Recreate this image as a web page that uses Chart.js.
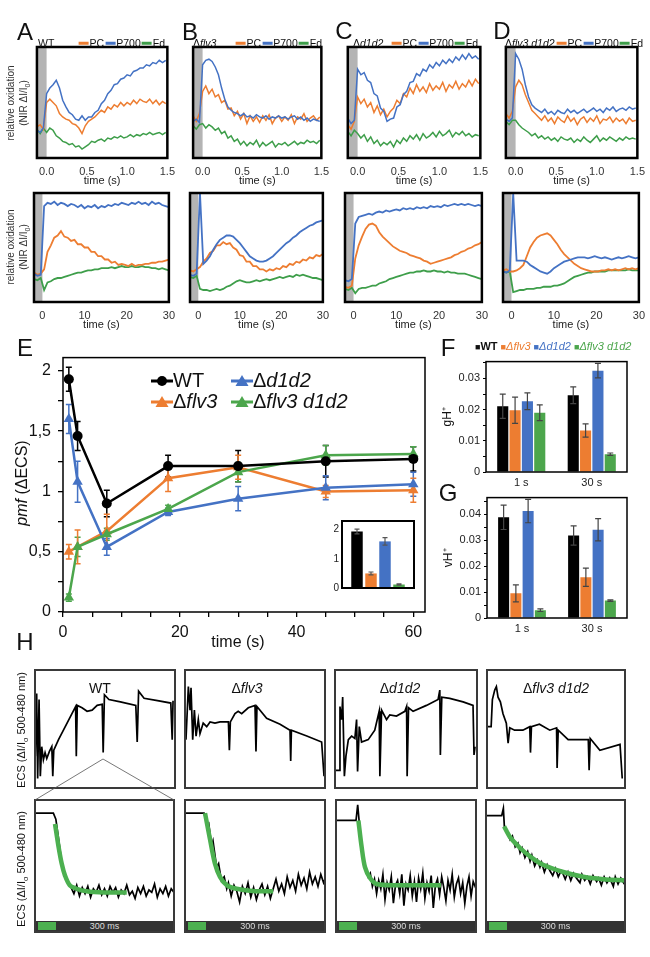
<!DOCTYPE html>
<html lang="en">
<head>
<meta charset="UTF-8">
<title>PSI redox kinetics and pmf in flv3 / d1d2 mutants</title>
<script src="https://cdn.jsdelivr.net/npm/chart.js"></script>
<style>
  html, body { margin: 0; background: #fff; }
  #fig { position: relative; width: 650px; height: 957px; overflow: hidden;
         font-family: "Liberation Sans", Arial, sans-serif; color: #111; }
  #fig canvas { position: absolute; }
  .txt { position: absolute; white-space: nowrap; line-height: 1; transform: translate(-50%, -50%); }
  .lft { position: absolute; white-space: nowrap; line-height: 1; transform: translateY(-50%); }
  .rgt { position: absolute; white-space: nowrap; line-height: 1; transform: translate(-100%, -50%); }
  .rot { position: absolute; white-space: nowrap; line-height: 1; transform: translate(-50%, -50%) rotate(-90deg); }
  .key { display: inline-block; width: 10px; height: 2.5px; vertical-align: middle; margin: 0 1px 1px 1px; }
  .bar300 { position: absolute; height: 10px; background: #333; color: #ddd; font-size: 9px; line-height: 10px; text-align: center; }
  .bar300 span { position: absolute; left: 2px; top: 1px; width: 18px; height: 8px; background: #4CB050; }
</style>
</head>
<body>
<div id="fig"></div>
<script>
// ---- A-D: relative oxidation traces (0-100 % of panel height) ----
const tTop = [-0.12,-0.08,-0.04,0,0.04,0.08,0.12,0.16,0.2,0.24,0.28,0.32,0.36,0.4,0.44,0.48,0.52,0.56,0.6,0.64,0.68,0.72,0.76,0.8,0.84,0.88,0.92,0.96,1,1.04,1.08,1.12,1.16,1.2,1.24,1.28,1.32,1.36,1.4,1.44,1.48];
const tBot = [-2,-1.2,-0.4,0.4,1.2,2,2.8,3.6,4.4,5.2,6,6.8,7.6,8.4,9.2,10,10.8,11.6,12.4,13.2,14,14.8,15.6,16.4,17.2,18,18.8,19.6,20.4,21.2,22,22.8,23.6,24.4,25.2,26,26.8,27.6,28.4,29.2,30];
const topTicks = [0, 0.5, 1, 1.5];
const botTicks = [0, 10, 20, 30];

const aTopP700 = [25,23,27,58,63,66,70,63,52,46,41,39,35,34,38,34,37,37,41,43,49,52,58,61,66,67,71,72,75,74,78,79,81,81,84,83,86,85,88,86,88];
const aTopPC   = [28,30,26,50,53,50,47,40,37,35,34,31,30,27,22,29,33,35,37,40,43,41,46,44,48,46,50,47,50,48,52,49,53,51,50,53,49,52,48,51,49];
const aTopFd   = [26,22,27,23,27,25,20,18,15,14,12,13,10,11,8,10,12,15,14,16,17,15,18,17,19,18,20,18,19,21,19,21,20,22,21,23,21,22,23,21,23];
const bTopP700 = [33,35,32,84,88,89,87,82,75,63,53,46,43,41,40,38,40,37,38,36,39,37,36,38,35,37,36,38,36,37,35,37,38,35,37,34,36,33,35,34,33];
const bTopPC   = [38,33,40,60,65,58,62,55,57,50,52,44,45,38,42,35,40,31,38,33,37,32,38,34,39,31,36,38,33,37,34,39,31,37,35,40,33,36,38,34,37];
const bTopFd   = [29,26,30,31,27,30,28,25,27,22,24,18,20,15,17,12,15,11,14,12,16,10,14,11,13,15,10,13,12,14,11,13,15,12,14,13,16,14,15,13,16];
const cTopP700 = [36,31,34,80,75,77,70,68,58,56,45,42,33,35,36,46,48,57,60,68,69,76,74,80,78,84,81,86,83,88,85,89,86,91,88,93,89,94,90,92,89];
const cTopPC   = [30,26,33,55,49,53,46,50,41,47,39,44,37,42,45,52,49,58,55,63,58,66,60,64,59,67,61,65,62,68,60,66,63,69,62,67,64,70,65,71,67];
const cTopFd   = [24,20,25,22,18,21,15,19,13,16,11,14,12,15,10,16,13,18,15,20,17,21,16,22,18,20,23,19,24,20,22,25,19,23,21,24,20,22,19,21,20];
const dTopP700 = [35,33,36,94,89,80,66,55,48,45,43,41,44,40,42,39,43,41,40,44,41,43,40,42,44,41,43,45,42,44,41,45,43,46,42,44,45,43,46,44,45];
const dTopPC   = [40,36,42,64,70,66,57,50,43,40,37,34,38,33,36,31,37,34,32,38,33,36,30,35,37,32,36,33,38,31,35,34,37,32,36,33,35,31,36,33,34];
const dTopFd   = [33,30,34,34,30,27,25,23,20,22,18,20,17,19,16,18,15,19,17,16,18,14,17,15,19,16,14,17,20,15,18,16,19,17,15,18,16,19,17,18,17];

const aBotP700 = [26,24,25,88,91,90,92,89,91,90,88,90,89,87,89,86,88,87,89,86,88,87,89,88,90,89,91,90,89,91,90,92,90,91,89,92,90,91,89,88,87];
const aBotPC   = [27,25,26,30,46,52,59,61,65,60,59,56,57,53,53,50,50,46,46,42,42,39,39,36,37,34,35,34,33,35,33,34,34,35,35,36,36,37,37,38,39];
const aBotFd   = [21,20,22,11,18,19,21,22,22,23,24,25,26,27,27,28,29,29,30,30,31,31,31,32,31,32,33,32,32,33,32,32,33,32,32,31,31,30,31,30,29];
const bBotP700 = [25,24,26,100,35,38,42,48,53,57,59,61,61,60,57,54,50,46,42,40,38,37,37,38,40,42,45,48,51,54,56,59,61,64,66,68,70,71,73,74,75];
const bBotPC   = [29,28,30,32,37,40,45,47,52,52,55,53,54,50,48,43,42,37,37,33,33,30,30,28,30,29,31,30,33,32,35,34,37,36,39,38,41,40,43,42,44];
const bBotFd   = [23,22,24,12,11,11,10,11,12,11,12,14,15,17,19,20,19,18,18,19,20,19,20,21,20,21,22,23,22,23,24,23,25,24,25,24,23,22,22,21,20];
const cBotP700 = [20,19,21,72,78,79,80,81,80,82,83,82,84,83,84,85,84,86,85,86,85,87,86,87,86,88,87,88,87,89,88,89,90,89,90,89,90,89,88,89,88];
const cBotPC   = [14,13,15,40,52,60,67,71,72,70,64,60,57,54,51,49,47,46,45,43,42,41,40,38,37,35,36,37,38,39,40,41,43,44,46,47,49,50,52,53,55];
const cBotFd   = [12,11,13,8,12,13,13,14,15,15,17,18,19,21,22,23,24,25,26,27,27,28,28,29,28,28,29,28,28,27,28,27,27,26,26,26,25,24,23,22,21];
const dBotP700 = [28,27,29,100,38,38,38,37,34,32,30,28,27,26,28,31,33,35,37,38,39,40,41,41,41,40,41,42,41,40,41,40,39,40,41,40,41,42,41,40,41];
const dBotPC   = [29,30,28,28,29,31,34,42,50,55,59,61,62,63,61,57,53,48,44,41,38,35,33,31,30,29,28,28,28,29,29,30,29,30,29,30,31,30,31,30,31];
const dBotFd   = [28,27,28,9,10,11,11,12,12,12,13,13,14,14,14,15,15,16,17,19,21,23,24,25,26,27,27,28,28,28,28,29,29,29,29,29,29,30,29,29,29];

// ---- E: pmf ----
const tE = [1, 2.5, 7.5, 18, 30, 45, 60];
const pmfWT         = [1.93, 1.46, 0.90, 1.21, 1.21, 1.25, 1.27];
const pmfWTErr      = [0.10, 0.12, 0.11, 0.09, 0.13, 0.13, 0.10];
const pmfFlv3       = [0.50, 0.54, 0.67, 1.11, 1.20, 1.00, 1.01];
const pmfFlv3Err    = [0.06, 0.14, 0.14, 0.11, 0.10, 0.05, 0.10];
const pmfD1d2       = [1.60, 1.08, 0.54, 0.83, 0.94, 1.03, 1.06];
const pmfD1d2Err    = [0.12, 0.17, 0.07, 0.03, 0.10, 0.10, 0.10];
const pmfFlv3D1d2   = [0.12, 0.54, 0.645, 0.855, 1.16, 1.30, 1.31];
const pmfFlv3D1d2Err= [0.03, 0.08, 0.05, 0.03, 0.08, 0.08, 0.06];
const eXTicks = [0,5,10,15,20,25,30,35,40,45,50,55,60];
const eXLabeled = [0, 20, 40, 60];
const eYTicks = [0,0.25,0.5,0.75,1,1.25,1.5,1.75,2];
const eYLabeled = [0, 0.5, 1, 1.5, 2];
const strains = ['WT', 'Δflv3', 'Δd1d2', 'Δflv3 d1d2'];
const insetPmf = [1.94, 0.50, 1.60, 0.12];
const insetErr = [0.08, 0.05, 0.13, 0.02];
const insetTicks = [0, 1, 2];

// ---- F, G: gH+ and vH+ ----
const fgCats = ['1 s', '30 s'];
const gHWT = [0.0211, 0.0246],       gHWTErr = [0.0039, 0.0027];
const gHFlv3 = [0.0198, 0.0133],     gHFlv3Err = [0.0042, 0.0021];
const gHD1d2 = [0.0227, 0.0325],     gHD1d2Err = [0.0027, 0.0023];
const gHFlv3D1d2 = [0.0190, 0.0057], gHFlv3D1d2Err = [0.0025, 0.0004];
const vHWT = [0.0388, 0.0318],       vHWTErr = [0.0047, 0.0037];
const vHFlv3 = [0.0095, 0.0157],     vHFlv3Err = [0.0033, 0.0035];
const vHD1d2 = [0.0412, 0.0340],     vHD1d2Err = [0.0045, 0.0043];
const vHFlv3D1d2 = [0.0030, 0.0067], vHFlv3D1d2Err = [0.0005, 0.0003];
const fTicks = [0,0.005,0.01,0.015,0.02,0.025,0.03,0.035];
const fLabeled = [0, 0.01, 0.02, 0.03];
const gTicks = [0,0.005,0.01,0.015,0.02,0.025,0.03,0.035,0.04,0.045];
const gLabeled = [0, 0.01, 0.02, 0.03, 0.04];

// ---- H: ECS traces, [x % of panel, y % of panel] ----
const hTopWT = [[0.2,27],[1.2,80],[1.9,8],[2.9,75],[3.8,10],[4.8,35],[6,24],[7.2,30],[8.4,25],[10.3,31],[12,35],[12.7,10],[13.4,32],[16.8,41],[21.6,52],[26.4,63],[29,69],[29.5,27],[30.2,70],[33.6,68],[37.2,65],[40.8,66],[44.4,70],[48,71],[48.7,30],[49.6,79],[52.8,75],[61,73],[72,70],[73,39],[74,82],[77.9,76],[87.5,74],[97,72],[98,41],[98.6,74]];
const hTopFlv3 = [[0.7,41],[2.4,86],[3.6,66],[4.3,85],[5.5,41],[6.7,66],[7.9,44],[9.5,58],[10.7,46],[13,55],[15.5,52],[17.9,56],[21.4,55],[25,56],[31,56],[31.7,32],[32.4,56],[35.7,63],[38,65],[40.5,63],[45.2,68],[50,70],[50.7,31],[51.4,69],[58.3,59],[67.9,54],[75,49],[75.5,23],[76,49],[87,44],[97.6,39],[99.3,10]];
const hTopD1d2 = [[0.7,15],[3,15],[3.5,69],[4.7,58],[5.4,77],[6.6,10],[7.7,27],[9.4,41],[11.7,44],[14,42],[15.2,58],[15.9,14],[17.1,52],[18.7,39],[23.4,41],[28,49],[31.1,65],[31.6,10],[32.8,66],[36.3,58],[38.6,62],[43.3,61],[49.2,65],[50.4,69],[50.8,10],[51.8,68],[55,65],[64.4,70],[72.6,75],[73.8,83],[74.2,28],[75.2,77],[80.8,76],[90.2,73],[97.2,70],[97.9,28],[98.6,35]];
const hTopFlv3D1d2 = [[0.7,52],[3,52],[3.9,75],[5.6,83],[6.8,86],[8,77],[9.7,73],[11.6,63],[14,55],[15.3,38],[16.5,51],[20,49],[26,49],[31,52],[31.5,30],[32.2,52],[38,54],[45.5,49],[50.4,51],[50.8,17],[51.6,49],[58.8,41],[73.4,41],[74,15],[74.8,42],[81.8,32],[96.4,37],[98,8]];

const hBotWT = [[0,89],[13.2,89],[15,84],[16.8,69],[19,50],[21.6,37],[24,30],[26,27],[28,22],[30,29],[32,20],[34,27],[36,22],[38,28],[40,19],[42,26],[44,23],[46,29],[48,21],[50,26],[52,20],[54,28],[56,23],[58,27],[60,19],[62,25],[64,22],[66,29],[68,21],[70,24],[72,18],[74,27],[76,22],[78,28],[80,20],[82,25],[84,23],[86,30],[88,19],[90,26],[92,22],[94,28],[96,20],[98,26],[100,23]];
const hFitWT = [[14.4,80],[16.8,62],[19.2,47],[21.6,37],[25,29],[30,26],[37,24],[50,23],[66,23]];
const hBotFlv3 = [[0,89],[13.6,89],[16,78],[17,80],[19,62],[20,66],[22.6,44],[24,47],[26,33],[28,36],[29.8,26],[31,31],[33,20],[35,29],[37,24],[39,15],[41,28],[43,22],[45,31],[47,19],[49,27],[51,17],[53,25],[55,30],[57,21],[59,28],[61,18],[63,26],[65,34],[67,24],[69,30],[71,22],[73,36],[75,27],[77,33],[79,24],[81,38],[83,29],[85,35],[87,26],[89,40],[91,30],[93,36],[95,28],[97,38],[99,31],[100,34]];
const hFitFlv3 = [[14.3,89],[17.9,67],[21.4,47],[25,36],[29.8,29],[36.9,26],[50,24],[63,24]];
const hBotD1d2 = [[0,83],[14.3,83],[15.5,96],[16.7,80],[18.3,61],[20.7,44],[22,40],[23,36],[24.5,39],[26,28],[27.5,34],[29,22],[30.5,33],[32,26],[33.5,38],[35,17],[36.5,31],[38,25],[39.5,36],[41,14],[42.5,29],[44,33],[45.5,22],[47,38],[48.5,12],[50,30],[51.5,25],[53,37],[54.5,20],[56,32],[57.5,15],[59,35],[60.5,26],[62,39],[63.5,18],[65,31],[66.5,24],[68,37],[69.5,10],[71,29],[72.5,34],[74,21],[75.5,36],[77,27],[78.5,16],[80,33],[81.5,25],[83,38],[84.5,19],[86,30],[87.5,35],[89,22],[90.5,31],[92,14],[93.5,28],[95,36],[96.5,20],[98,32],[100,26]];
const hFitD1d2 = [[16,83],[18.3,61],[20.7,44],[24.3,35],[29,30],[43,29],[75,29]];
const hBotFlv3D1d2 = [[0,87],[11.3,87],[12.5,93],[13.2,78],[15,74],[17.3,67],[19,70],[21,61],[23,64],[24.5,56],[26,60],[28,52],[30,57],[31.7,49],[33,54],[35,45],[37,50],[38.8,44],[40,48],[42,40],[44,46],[46,41],[48,37],[50,43],[52,36],[54,41],[55.6,38],[57,34],[59,40],[61,33],[63,39],[65,35],[67.6,31],[69,38],[71,33],[73,36],[75,30],[77,37],[79.6,32],[81,35],[83,29],[85,36],[87,31],[89,35],[91.6,28],[93,36],[95,30],[97,35],[99,31],[100,34]];
const hFitFlv3D1d2 = [[13,78],[17.3,69],[24.5,60],[31.7,53],[41,46],[55.6,40],[70,36],[84.4,34],[100,33]];

const ORANGE = '#ED7D31', BLUE = '#4472C4', GREEN = '#4CA64C', FIT = '#4CB050';

const fig = document.getElementById('fig');
Chart.defaults.font.family = '"Liberation Sans", Arial, sans-serif';
Chart.defaults.color = '#111';
Chart.defaults.plugins.legend.display = false;
Chart.defaults.plugins.tooltip.enabled = false;

// box frame + grey "dark" band
Chart.register({
  id: 'frame',
  beforeDatasetsDraw(chart, args, o) {
    if (o.band === undefined) return;
    const a = chart.chartArea, ctx = chart.ctx;
    const x = chart.scales.x.getPixelForValue(o.band);
    ctx.save(); ctx.fillStyle = '#B4B4B4';
    ctx.fillRect(a.left, a.top, x - a.left, a.bottom - a.top);
    ctx.restore();
  },
  afterDraw(chart, args, o) {
    if (!o.width) return;
    const a = chart.chartArea, ctx = chart.ctx, px = o.padX || 0;
    ctx.save(); ctx.strokeStyle = o.color; ctx.lineWidth = o.width;
    ctx.strokeRect(a.left - px, a.top, a.right - a.left + 2 * px, a.bottom - a.top);
    ctx.restore();
  }
});

// error bars from dataset.errs
function drawErr(chart) {
  const ctx = chart.ctx, ys = chart.scales.y;
  chart.data.datasets.forEach((ds, i) => {
    if (!ds.errs) return;
    const meta = chart.getDatasetMeta(i);
    ctx.save();
    ctx.strokeStyle = ds.errColor || ds.borderColor;
    ctx.lineWidth = ds.errWidth || 1.2;
    meta.data.forEach((el, j) => {
      const d = ds.data[j], v = typeof d === 'object' ? d.y : d, e = ds.errs[j];
      const y1 = ys.getPixelForValue(v + e), y2 = ys.getPixelForValue(v - e), cw = ds.capW || 3;
      ctx.beginPath();
      ctx.moveTo(el.x, y1); ctx.lineTo(el.x, y2);
      ctx.moveTo(el.x - cw, y1); ctx.lineTo(el.x + cw, y1);
      ctx.moveTo(el.x - cw, y2); ctx.lineTo(el.x + cw, y2);
      ctx.stroke();
    });
    ctx.restore();
  });
}
Chart.register({
  id: 'errbars',
  beforeDatasetsDraw(chart, args, o) { if (o.under) drawErr(chart); },
  afterDatasetsDraw(chart, args, o) { if (!o.under) drawErr(chart); }
});

// canvas placed so that its chart area is exactly the box
function place(box, m, cfg) {
  const c = document.createElement('canvas');
  const W = box.w + m.l + m.r, H = box.h + m.t + m.b;
  c.width = W; c.height = H;
  Object.assign(c.style, { left: (box.x - m.l) + 'px', top: (box.y - m.t) + 'px', width: W + 'px', height: H + 'px' });
  fig.appendChild(c);
  const sc = cfg.options.scales;
  const xHid = sc.x.display === false, yHid = sc.y.display === false;
  if (!xHid) sc.x.afterFit = s => { s.height = m.b; };
  if (!yHid) sc.y.afterFit = s => { s.width = m.l; };
  cfg.options.layout = { padding: { left: yHid ? m.l : 0, right: m.r, top: m.t, bottom: xHid ? m.b : 0 } };
  cfg.options.responsive = false;
  cfg.options.animation = false;
  cfg.options.events = [];
  return new Chart(c, cfg);
}

function put(cls, x, y, size, html, style) {
  const d = document.createElement('div');
  d.className = cls;
  d.style.left = x + 'px'; d.style.top = y + 'px'; d.style.fontSize = size + 'px';
  if (style) d.style.cssText += style;
  d.innerHTML = html;
  fig.appendChild(d);
}

const noGrid = { display: false, drawTicks: false };

// ---- A-D ----
function tracePanel(box, t, xmin, xmax, ticks, fmt, p700, pc, fd, lw) {
  place(box, { l: 2, r: 12, t: 2, b: 30 }, {
    type: 'line',
    data: { datasets: [[p700, BLUE], [pc, ORANGE], [fd, '#3E9E4A']].map(([ys, col]) => ({
      data: t.map((x, i) => ({ x, y: ys[i] })), borderColor: col, borderWidth: lw, pointRadius: 0, tension: 0 })) },
    options: {
      plugins: { frame: { width: 2.5, color: '#000', band: 0 } },
      scales: {
        x: { type: 'linear', min: xmin, max: xmax,
             afterBuildTicks: s => { s.ticks = ticks.map(v => ({ value: v })); },
             grid: noGrid, border: { display: false },
             ticks: { callback: fmt, font: { size: 11 }, color: '#333', padding: 7, maxRotation: 0, autoSkip: false },
             title: { display: true, text: 'time (s)', font: { size: 11 }, color: '#222', padding: 0 } },
        y: { display: false, min: 0, max: 100 }
      }
    }
  });
}
const fmtTop = v => v.toFixed(1), fmtBot = v => String(v);
const colX = [[34, 136], [190, 134], [345, 138], [503, 137]];
const topSets = [[aTopP700, aTopPC, aTopFd], [bTopP700, bTopPC, bTopFd], [cTopP700, cTopPC, cTopFd], [dTopP700, dTopPC, dTopFd]];
const botSets = [[aBotP700, aBotPC, aBotFd], [bBotP700, bBotPC, bBotFd], [cBotP700, cBotPC, cBotFd], [dBotP700, dBotPC, dBotFd]];
colX.forEach(([x, w], i) => {
  tracePanel({ x, y: 47, w, h: 111 }, tTop, -0.12, 1.5, topTicks, fmtTop, ...topSets[i], 1.5);
  tracePanel({ x, y: 193, w, h: 109 }, tBot, -2, 30, botTicks, fmtBot, ...botSets[i], 1.8);
});

// ---- E ----
const eSets = [
  ['WT', pmfWT, pmfWTErr, '#000', 'circle', 5],
  ['Δflv3 d1d2', pmfFlv3D1d2, pmfFlv3D1d2Err, GREEN, 'triangle', 6],
  ['Δd1d2', pmfD1d2, pmfD1d2Err, BLUE, 'triangle', 6],
  ['Δflv3', pmfFlv3, pmfFlv3Err, ORANGE, 'triangle', 6]
];
place({ x: 63, y: 353, w: 362, h: 259 }, { l: 45, r: 12, t: 12, b: 40 }, {
  type: 'line',
  data: { datasets: eSets.map(([label, ys, errs, col, shape, r]) => ({
    label, data: tE.map((x, i) => ({ x, y: ys[i] })), errs, capW: 3, errWidth: 1.5,
    borderColor: col, backgroundColor: col, borderWidth: 2.5, pointStyle: shape, pointRadius: r, pointBorderWidth: 0, tension: 0 })) },
  options: {
    plugins: { frame: { width: 1.5, color: '#000' }, errbars: { under: true } },
    scales: {
      x: { type: 'linear', min: 0, max: 62,
           afterBuildTicks: s => { s.ticks = eXTicks.map(v => ({ value: v })); },
           grid: { drawOnChartArea: false, tickLength: 5, color: '#000', lineWidth: 1.3 }, border: { display: false },
           ticks: { callback: v => eXLabeled.includes(v) ? String(v) : '', font: { size: 16 }, color: '#111', padding: 6, maxRotation: 0, autoSkip: false } },
      y: { min: 0, max: 2.11,
           afterBuildTicks: s => { s.ticks = eYTicks.map(v => ({ value: v })); },
           grid: { drawOnChartArea: false, tickLength: 5, color: '#000', lineWidth: 1.3 }, border: { display: false },
           ticks: { callback: v => eYLabeled.includes(v) ? String(v).replace('.', ',') : '', font: { size: 16 }, color: '#111', padding: 7, autoSkip: false } }
    }
  }
});
// inset
place({ x: 350, y: 510, w: 56, h: 93 }, { l: 20, r: 12, t: 6, b: 2 }, {
  type: 'bar',
  data: { labels: strains, datasets: [{ data: insetPmf, errs: insetErr, errColor: '#555', capW: 2.5,
          backgroundColor: ['#000', ORANGE, BLUE, GREEN], barPercentage: 0.82, categoryPercentage: 1 }] },
  options: {
    plugins: { frame: { width: 2, color: '#000', padX: 8 } },
    scales: {
      x: { display: false },
      y: { min: 0, max: 2.3, afterBuildTicks: s => { s.ticks = insetTicks.map(v => ({ value: v })); },
           grid: noGrid, border: { display: false },
           ticks: { font: { size: 10 }, color: '#222', padding: 11 } }
    }
  }
});

// ---- F, G ----
function barPanel(box, sets, ticks, labeled, ymax, title) {
  place(box, { l: 46, r: 4, t: 8, b: 20 }, {
    type: 'bar',
    data: { labels: fgCats, datasets: sets.map(([vals, errs, col]) => ({
      data: vals, errs, errColor: '#444', capW: 3, backgroundColor: col, barPercentage: 0.9, categoryPercentage: 0.7 })) },
    options: {
      plugins: { frame: { width: 1.5, color: '#000' } },
      scales: {
        x: { grid: noGrid, border: { display: false },
             ticks: { font: { size: 11 }, color: '#222', padding: 4 } },
        y: { min: 0, max: ymax,
             afterBuildTicks: s => { s.ticks = ticks.map(v => ({ value: v })); },
             grid: { drawOnChartArea: false, tickLength: 3, color: '#000' }, border: { display: false },
             ticks: { callback: v => labeled.includes(v) ? (v === 0 ? '0' : v.toFixed(2)) : '', font: { size: 11 }, color: '#222', padding: 3, autoSkip: false },
             title: { display: true, text: title, font: { size: 12 }, color: '#111', padding: 0 } }
      }
    }
  });
}
barPanel({ x: 486, y: 360, w: 141, h: 112 },
  [[gHWT, gHWTErr, '#000'], [gHFlv3, gHFlv3Err, ORANGE], [gHD1d2, gHD1d2Err, BLUE], [gHFlv3D1d2, gHFlv3D1d2Err, GREEN]],
  fTicks, fLabeled, 0.0354, 'gH⁺');
barPanel({ x: 487, y: 496, w: 140, h: 122 },
  [[vHWT, vHWTErr, '#000'], [vHFlv3, vHFlv3Err, ORANGE], [vHD1d2, vHD1d2Err, BLUE], [vHFlv3D1d2, vHFlv3D1d2Err, GREEN]],
  gTicks, gLabeled, 0.0464, 'vH⁺');

// ---- H ----
function ecsPanel(box, ymin, trace, fit) {
  const ds = [];
  if (fit) ds.push({ data: fit.map(([x, y]) => ({ x, y })), borderColor: FIT, borderWidth: 4.5, pointRadius: 0, tension: 0.3 });
  ds.push({ data: trace.map(([x, y]) => ({ x, y })), borderColor: '#000', borderWidth: 1.7, pointRadius: 0, tension: 0 });
  place(box, { l: 2, r: 2, t: 2, b: 2 }, {
    type: 'line', data: { datasets: ds },
    options: {
      plugins: { frame: { width: 2, color: '#3a3a3a' } },
      scales: { x: { type: 'linear', display: false, min: 0, max: 100 }, y: { display: false, min: ymin, max: 100 } }
    }
  });
}
const hTopBoxes = [[35, 140], [185, 140], [335, 142], [487, 138]];
const hBotBoxes = [[35, 139], [185, 140], [336, 140], [486, 139]];
[hTopWT, hTopFlv3, hTopD1d2, hTopFlv3D1d2].forEach((tr, i) =>
  ecsPanel({ x: hTopBoxes[i][0], y: 670, w: hTopBoxes[i][1], h: 118 }, 0, tr));
[[hBotWT, hFitWT], [hBotFlv3, hFitFlv3], [hBotD1d2, hFitD1d2], [hBotFlv3D1d2, hFitFlv3D1d2]].forEach(([tr, fit], i) =>
  ecsPanel({ x: hBotBoxes[i][0], y: 800, w: hBotBoxes[i][1], h: 132 }, -10, tr, fit));
hBotBoxes.forEach(([x, w]) => put('bar300', x + 1, 921, 9, '<span></span>300 ms', 'width:' + (w - 2) + 'px'));

// zoom lines WT
const svg = document.createElementNS('http://www.w3.org/2000/svg', 'svg');
svg.setAttribute('width', 650); svg.setAttribute('height', 957);
svg.style.cssText = 'position:absolute;left:0;top:0;pointer-events:none';
svg.innerHTML = '<line x1="103" y1="759" x2="35" y2="800" stroke="#555" stroke-width="0.8"/><line x1="103" y1="759" x2="174" y2="800" stroke="#555" stroke-width="0.8"/>';
fig.appendChild(svg);

// ---- text ----
const D = 'Δ';
[['A', 25, 32], ['B', 190, 32], ['C', 344, 31], ['D', 502, 31], ['E', 25, 348], ['F', 448, 348], ['G', 448, 493], ['H', 25, 642]]
  .forEach(([s, x, y]) => put('txt', x, y, 24, s));
put('lft', 38, 43, 10.5, 'WT');
put('lft', 193, 43, 10.5, D + '<i>flv3</i>');
put('lft', 353, 43, 10.5, D + '<i>d1d2</i>');
put('lft', 505, 43, 10.5, D + '<i>flv3 d1d2</i>');
const keyHtml = '<span class="key" style="background:' + ORANGE + '"></span>PC<span class="key" style="background:' + BLUE + '"></span>P700<span class="key" style="background:#3E9E4A"></span>Fd';
[165, 322, 478, 643].forEach(x => put('rgt', x, 43, 10.5, keyHtml));
[103, 247].forEach(y => {
  put('rot', 11, y, 10, 'relative oxidation', 'color:#333');
  put('rot', 25, y, 10, '(NIR ' + D + 'I/I<sub style="font-size:7px">0</sub>)', 'color:#333');
});

function glyph(col, shape) {
  const m = shape === 'circle' ? '<circle cx="11" cy="7" r="5" fill="' + col + '"/>' : '<polygon points="11,1 17.5,12 4.5,12" fill="' + col + '"/>';
  return '<svg width="22" height="14" style="vertical-align:-1px"><line x1="0" y1="7" x2="22" y2="7" stroke="' + col + '" stroke-width="3"/>' + m + '</svg>';
}
put('lft', 151, 380, 20, glyph('#000', 'circle') + 'WT');
put('lft', 231, 380, 20, glyph(BLUE, 'tri') + D + '<i>d1d2</i>');
put('lft', 151, 401, 20, glyph(ORANGE, 'tri') + D + '<i>flv3</i>');
put('lft', 231, 401, 20, glyph(GREEN, 'tri') + D + '<i>flv3 d1d2</i>');
put('rot', 22, 483, 16, '<i>pmf</i> (' + D + 'ECS)');
put('txt', 238, 642, 16, 'time (s)');

put('lft', 475, 346, 11, '<span style="font-size:9px">■</span><b>WT</b>&nbsp;<span style="color:' + ORANGE + '"><span style="font-size:9px">■</span><i>' + D + 'flv3</i></span>&nbsp;<span style="color:' + BLUE + '"><span style="font-size:9px">■</span><i>' + D + 'd1d2</i></span>&nbsp;<span style="color:' + GREEN + '"><span style="font-size:9px">■</span><i>' + D + 'flv3 d1d2</i></span>');

[['WT', 100], [D + '<i>flv3</i>', 247], [D + '<i>d1d2</i>', 400], [D + '<i>flv3 d1d2</i>', 556]]
  .forEach(([s, x]) => put('txt', x, 688, 14, s));
[730, 869].forEach(y => put('rot', 23, y, 11, 'ECS (' + D + 'I/I<sub style="font-size:8px">o</sub> 500-480 nm)'));
</script>
</body>
</html>
